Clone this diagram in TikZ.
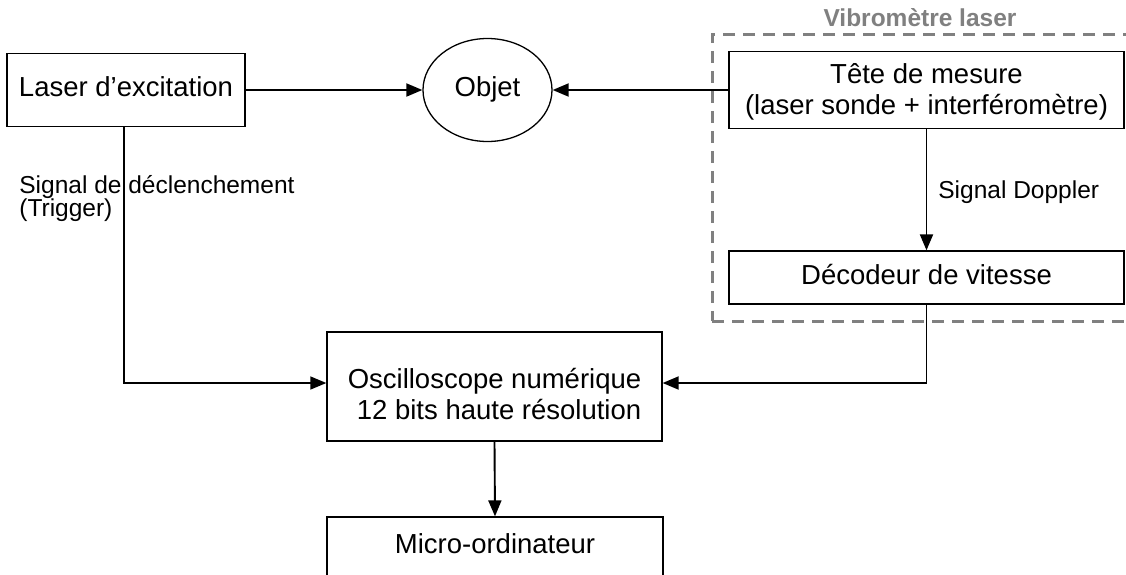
\documentclass[tikz,border=0pt]{standalone}
\usepackage{fontspec}
\setmainfont{Liberation Sans}
\usetikzlibrary{arrows.meta,shapes.geometric}
\definecolor{dgray}{RGB}{128,128,128}
\begin{document}
\begin{tikzpicture}[x=0.5pt,y=-0.5pt,
  box/.style={draw, line width=0.65pt, inner sep=0pt, align=center,
    font=\fontsize{13.75}{15.75}\selectfont},
  oneline/.style={text height=0.65em, text depth=0pt},
  lbl/.style={inner sep=0pt, font=\fontsize{12.25}{11.65}\selectfont},
  conn/.style={line width=0.95pt, -{Triangle[length=8pt,width=6.5pt]}},
  trig/.style={line width=0.7pt, -{Triangle[length=8pt,width=6.5pt]}},
  group/.style={draw=dgray, line width=1.5pt, dash pattern=on 6pt off 4pt, inner sep=0pt},
]
\path[use as bounding box] (0,0) rectangle (1126,574);
\clip (0,0) rectangle (1126,574);

% dashed group
\node (vibro) [group, minimum width=214pt, minimum height=143.5pt] at (926,177.5) {};
\node (vtitle) [inner sep=0pt, anchor=base, text=dgray,
  font=\fontsize{12.25}{11.65}\selectfont\bfseries] at (920,26) {Vibromètre laser};

% boxes
\node (laser) [box, oneline, minimum width=119pt, minimum height=36.5pt] at (126,90) {Laser d’excitation};
\node (objet) [box, oneline, ellipse, minimum width=64.5pt, minimum height=51.5pt] at (487.5,90) {Objet};
\node (tete) [box, minimum width=197.5pt, minimum height=38.5pt] at (926.5,90)
  {\rule{0pt}{12pt}Tête de mesure\\(laser sonde + interféromètre)\rule[-3pt]{0pt}{3pt}};
\node (deco) [box, oneline, minimum width=197.5pt, minimum height=26.5pt] at (926.5,277.5) {Décodeur de vitesse};
\node (osc) [box, align=right, minimum width=167.5pt, minimum height=54.5pt] at (494.5,386.5)
  {\rule{0pt}{17.5pt}Oscilloscope numérique\\12 bits haute résolution};
\node (micro) [box, text height=0.65em, text depth=0.3em, minimum width=168pt, minimum height=33pt] at (495,550) {Micro-ordinateur};

% labels
\node (trigtxt) [lbl, align=left, anchor=north west] at (19,175) {Signal de déclenchement\\(Trigger)};
\node (dopp) [lbl, anchor=base west] at (938,198) {Signal Doppler};

% connectors
\draw[conn] (laser.east) -- (objet.west);
\draw[conn] (tete.west) -- (objet.east);
\draw[conn] (tete.south) -- (deco.north);
\draw[conn] (deco.south) |- ([yshift=1.75pt]osc.east);
\draw[trig] ([xshift=-1pt]laser.south) |- ([yshift=1.75pt]osc.west);
\draw[conn] (osc.south) -- (micro.north);
\end{tikzpicture}
\end{document}
